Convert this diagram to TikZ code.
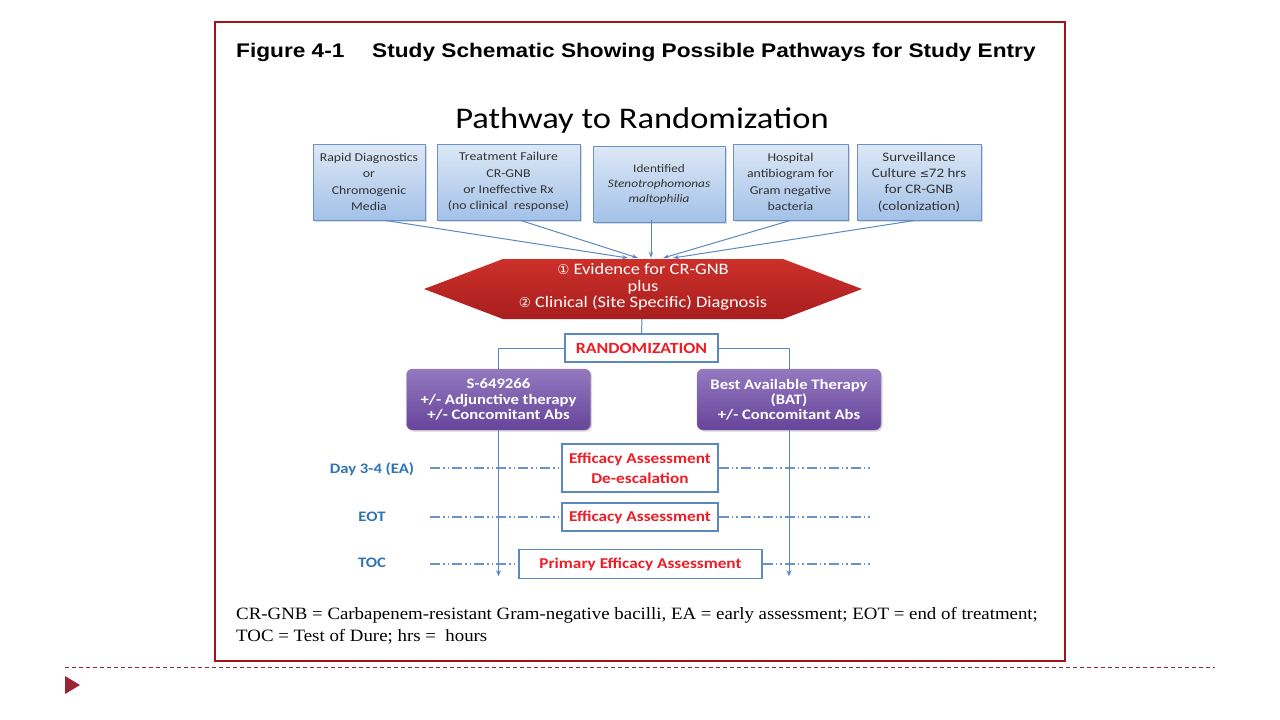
\documentclass[tikz,border=0pt]{standalone}
\usepackage{fontspec}
\setmainfont{Carlito}[FakeStretch=1.15]
\newfontfamily\arialfont{Liberation Sans}[FakeStretch=1.15]
\newfontfamily\timesfont{Liberation Serif}[FakeStretch=1.09]
\newfontfamily\symfont{DejaVu Sans}
\usetikzlibrary{arrows.meta, positioning, shadows}
\definecolor{framered}{HTML}{A5121C}
\definecolor{boxblue}{HTML}{6A92C8}
\definecolor{boxtop}{HTML}{DDE8F6}
\definecolor{boxbot}{HTML}{A3C1E8}
\definecolor{hexred}{HTML}{CC302A}
\definecolor{hexdark}{HTML}{A81E1E}
\definecolor{purptop}{HTML}{9479C0}
\definecolor{purpbot}{HTML}{66449A}
\definecolor{txtred}{HTML}{EE1C25}
\definecolor{daybl}{HTML}{2E74B5}
\definecolor{linebl}{HTML}{5B88C0}
\definecolor{slidered}{HTML}{9B2335}

\begin{document}
\begin{tikzpicture}[x=1pt,y=-1pt,
    srcbox/.style={draw=boxblue,line width=0.8pt,top color=boxtop,bottom color=boxbot,
      minimum height=76pt,align=center,inner sep=2pt,text=black!80,
      font=\fontsize{12}{16.3}\selectfont,
      drop shadow={shadow xshift=1.5pt,shadow yshift=-1.5pt,opacity=0.3}},
    armbox/.style={rounded corners=6pt,top color=purptop,bottom color=purpbot,draw=purpbot!70,
      minimum height=61pt,minimum width=184pt,align=center,text=white,
      font=\fontsize{14.5}{15.2}\selectfont\bfseries,
      drop shadow={shadow xshift=1.5pt,shadow yshift=-1.5pt,opacity=0.3}},
    evalbox/.style={draw=linebl,line width=1.2pt,fill=white,align=center,text=txtred,
      font=\fontsize{15}{20}\selectfont\bfseries},
    visit/.style={text=daybl,font=\fontsize{14.5}{16}\selectfont\bfseries},
    conn/.style={draw=linebl,line width=1pt},
    timeline/.style={draw=linebl!90,line width=1.2pt,
      dash pattern=on 10pt off 3pt on 1.5pt off 3pt on 1.5pt off 3pt}]
  \useasboundingbox (0,0) rectangle (1280,720);
  % frame and slide decoration
  \draw[framered,line width=1.8pt](215,22) rectangle (1065,661);
  \draw[slidered,line width=0.8pt,dash pattern=on 4pt off 3pt](65,667)--(1215,667);
  \fill[slidered](65,676)--(80,685)--(65,694)--cycle;
  % titles
  \node[anchor=west,inner sep=0pt,font=\arialfont\fontsize{19.7}{22}\selectfont\bfseries](figno) at (236,52) {Figure 4-1};
  \node[anchor=west,inner sep=0pt,font=\arialfont\fontsize{19.7}{22}\selectfont\bfseries](figtitle) at (372,52) {Study Schematic Showing Possible Pathways for Study Entry};
  \node[font=\fontsize{30}{32}\selectfont](pathway) at (642,121) {Pathway to Randomization};
  % sources of evidence
  \node[srcbox,minimum width=112pt](rapid) at (369,182) {Rapid Diagnostics\\or\\Chromogenic\\Media};
  \node[srcbox,minimum width=143pt](failure) at (508.5,182) {Treatment Failure\\CR-GNB\\or Ineffective Rx\\(no clinical\ \ response)};
  \node[srcbox,minimum width=132pt,font=\fontsize{11.5}{15}\selectfont](steno) at (659,184) {Identified\\\textit{Stenotrophomonas}\\\textit{maltophilia}};
  \node[srcbox,minimum width=115pt](antibio) at (790.5,182) {Hospital\\antibiogram for\\Gram negative\\bacteria};
  \node[srcbox,minimum width=124pt,font=\fontsize{13}{16.3}\selectfont](surveil) at (919,182) {Surveillance\\Culture {\symfont\fontsize{11}{13}\selectfont≤}72 hrs\\for CR-GNB\\(colonization)};
  % evidence hexagon
  \shade[top color=hexred,bottom color=hexdark](424,289)--(503,259)--(783,259)--(862,289)--(783,319)--(503,319)--cycle;
  \node[text=white,align=center,font=\fontsize{16}{16.5}\selectfont](evid) at (643,287)
    {{\symfont\fontsize{13.5}{14}\selectfont①} Evidence for CR-GNB\\plus\\{\symfont\fontsize{13.5}{14}\selectfont②} Clinical (Site Specific) Diagnosis};
  \coordinate (h1) at (628,258);
  \coordinate (h2) at (638,258);
  \coordinate (h3) at (651,258);
  \coordinate (h4) at (663,258);
  \coordinate (h5) at (673,258);
  \coordinate (hexbot) at (642,319);
  \draw[conn,-{Stealth[length=6pt,width=4pt]}]([xshift=16pt]rapid.south)--(h1);
  \draw[conn,-{Stealth[length=6pt,width=4pt]}]([xshift=12pt]failure.south)--(h2);
  \draw[conn,-{Stealth[length=6pt,width=4pt]}]([xshift=-8pt,yshift=2pt]steno.south)--(h3);
  \draw[conn,-{Stealth[length=6pt,width=4pt]}]([xshift=0pt]antibio.south)--(h4);
  \draw[conn,-{Stealth[length=6pt,width=4pt]}]([xshift=-4pt]surveil.south)--(h5);
  % randomization and arms
  \node[evalbox,minimum width=153pt,minimum height=28pt,font=\fontsize{15.5}{18}\selectfont\bfseries](rand) at (641.5,348) {RANDOMIZATION};
  \draw[conn](hexbot)--(rand.north);
  \node[armbox](drug) at (498.5,399.5) {S-649266\\+/- Adjunctive therapy\\+/- Concomitant Abs};
  \node[armbox](bat) at (789,399.5) {Best Available Therapy\\(BAT)\\+/- Concomitant Abs};
  \draw[conn](rand.west)-|(drug.north);
  \draw[conn](rand.east)-|(bat.north);
  % visits
  \node[visit](dayea) at (372,469) {Day 3-4 (EA)};
  \node[visit](eotlbl) at (372,517) {EOT};
  \node[visit](toclbl) at (372,563) {TOC};
  \node[evalbox,minimum width=156pt,minimum height=48pt](ea) at (640,468) {Efficacy Assessment\\De-escalation};
  \node[evalbox,minimum width=156pt,minimum height=28pt](eot) at (640,517) {Efficacy Assessment};
  \node[evalbox,minimum width=243pt,minimum height=29pt](toc) at (640.5,564) {Primary Efficacy Assessment};
  \coordinate (ea0) at (430,468);  \coordinate (ea1) at (870,468);
  \coordinate (eot0) at (430,517); \coordinate (eot1) at (870,517);
  \coordinate (toc0) at (430,564); \coordinate (toc1) at (870,564);
  \draw[timeline](ea0)--(ea.west);   \draw[timeline](ea.east)--(ea1);
  \draw[timeline](eot0)--(eot.west); \draw[timeline](eot.east)--(eot1);
  \draw[timeline](toc0)--(toc.west); \draw[timeline](toc.east)--(toc1);
  \draw[conn,-{Stealth[length=6pt,width=5pt]}](drug.south)--++(0,146);
  \draw[conn,-{Stealth[length=6pt,width=5pt]}](bat.south)--++(0,146);
  % footnote
  \node[anchor=north west,align=left,inner sep=0pt,font=\timesfont\fontsize{17.3}{22}\selectfont](note) at (236,607)
    {CR-GNB = Carbapenem-resistant Gram-negative bacilli, EA = early assessment; EOT = end of treatment;\\
     TOC = Test of Dure; hrs =\ \ hours};
\end{tikzpicture}
\end{document}
